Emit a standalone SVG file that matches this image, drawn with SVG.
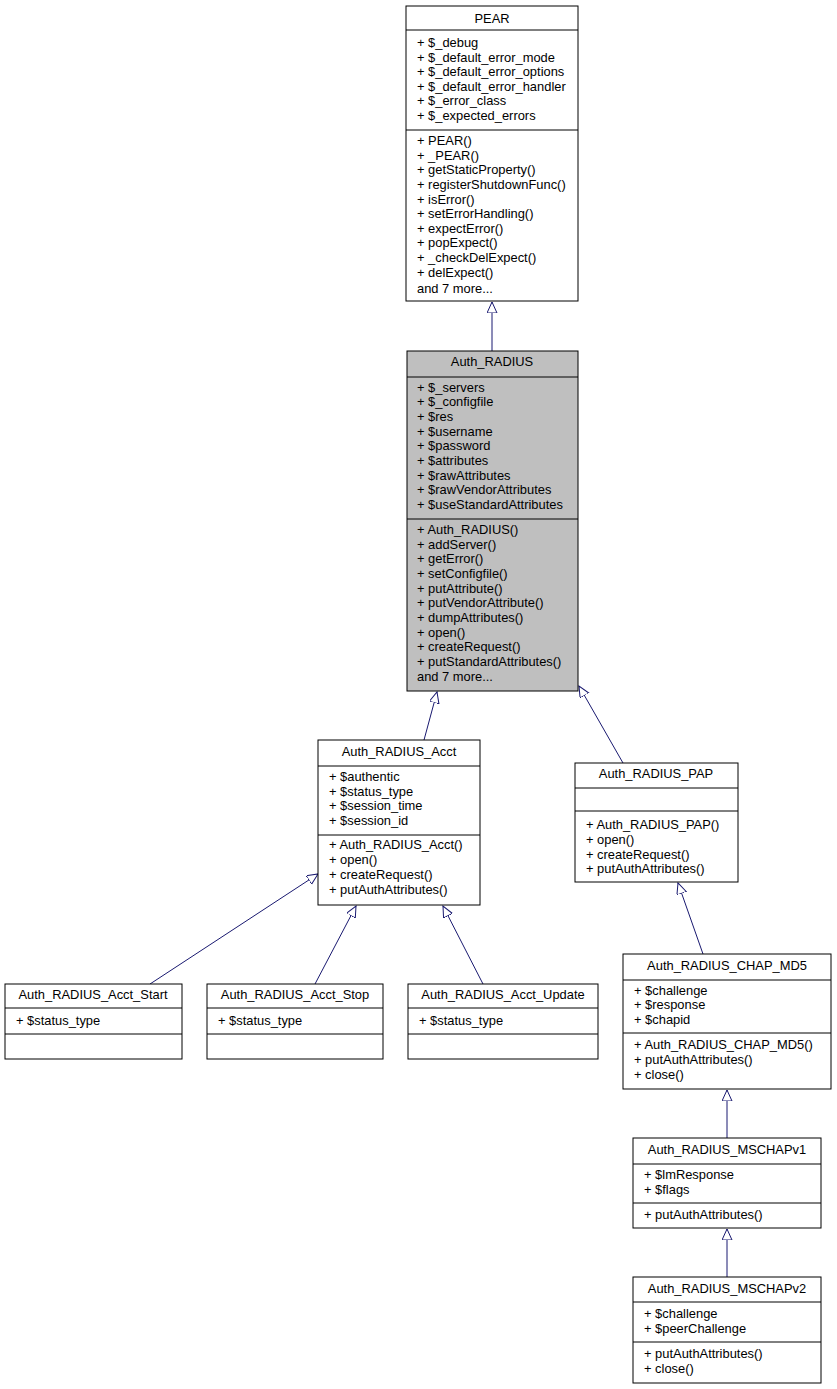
<svg xmlns="http://www.w3.org/2000/svg" width="837" height="1389" viewBox="0 0 837 1389">
<style>
text{font-family:"Liberation Sans",Arial,sans-serif;font-size:12.9px;fill:#000}
.t{text-anchor:middle}
rect{fill:#fff;stroke:#000;stroke-width:1}
line.s{stroke:#000;stroke-width:1}
.e line{stroke:#191970;stroke-width:1;marker-end:url(#a)}
</style>
<defs><marker id="a" markerUnits="userSpaceOnUse" markerWidth="12" markerHeight="12" refX="11" refY="5" orient="auto"><path d="M0,0 L11,5 L0,10 Z" fill="#fff" stroke="#191970"/></marker></defs>
<rect x="0" y="0" width="837" height="1389" style="stroke:none"/>
<g class="e">
<line x1="492" y1="351" x2="492" y2="302"/>
<line x1="424" y1="740" x2="437" y2="692"/>
<line x1="623" y1="763" x2="579" y2="686"/>
<line x1="150" y1="984" x2="318" y2="874"/>
<line x1="315" y1="984" x2="356" y2="906"/>
<line x1="483" y1="984" x2="443" y2="906"/>
<line x1="703" y1="954" x2="678" y2="883"/>
<line x1="727" y1="1138" x2="727" y2="1090"/>
<line x1="727" y1="1277" x2="727" y2="1229"/>
</g>
<g id="PEAR">
<rect x="406" y="6" width="172" height="295"/>
<line class="s" x1="406" y1="30" x2="578" y2="30"/><line class="s" x1="406" y1="130" x2="578" y2="130"/>
<text class="t" x="492" y="23">PEAR</text>
<text x="417" y="47">+ $_debug</text><text x="417" y="62">+ $_default_error_mode</text><text x="417" y="76">+ $_default_error_options</text><text x="417" y="91">+ $_default_error_handler</text><text x="417" y="105">+ $_error_class</text><text x="417" y="120">+ $_expected_errors</text>
<text x="417" y="145">+ PEAR()</text><text x="417" y="160">+ _PEAR()</text><text x="417" y="174">+ getStaticProperty()</text><text x="417" y="189">+ registerShutdownFunc()</text><text x="417" y="204">+ isError()</text><text x="417" y="218">+ setErrorHandling()</text><text x="417" y="233">+ expectError()</text><text x="417" y="247">+ popExpect()</text><text x="417" y="262">+ _checkDelExpect()</text><text x="417" y="277">+ delExpect()</text><text x="417" y="293">and 7 more...</text>
</g>
<g id="Auth_RADIUS">
<rect x="407" y="351" width="171" height="340" style="fill:#bfbfbf"/>
<line class="s" x1="407" y1="377" x2="578" y2="377"/><line class="s" x1="407" y1="519" x2="578" y2="519"/>
<text class="t" x="492" y="366">Auth_RADIUS</text>
<text x="417" y="392">+ $_servers</text><text x="417" y="406">+ $_configfile</text><text x="417" y="421">+ $res</text><text x="417" y="436">+ $username</text><text x="417" y="450">+ $password</text><text x="417" y="465">+ $attributes</text><text x="417" y="480">+ $rawAttributes</text><text x="417" y="494">+ $rawVendorAttributes</text><text x="417" y="509">+ $useStandardAttributes</text>
<text x="417" y="534">+ Auth_RADIUS()</text><text x="417" y="549">+ addServer()</text><text x="417" y="563">+ getError()</text><text x="417" y="578">+ setConfigfile()</text><text x="417" y="593">+ putAttribute()</text><text x="417" y="607">+ putVendorAttribute()</text><text x="417" y="622">+ dumpAttributes()</text><text x="417" y="637">+ open()</text><text x="417" y="651">+ createRequest()</text><text x="417" y="666">+ putStandardAttributes()</text><text x="417" y="681">and 7 more...</text>
</g>
<g id="Auth_RADIUS_Acct">
<rect x="318" y="740" width="162" height="165"/>
<line class="s" x1="318" y1="766" x2="480" y2="766"/><line class="s" x1="318" y1="835" x2="480" y2="835"/>
<text class="t" x="399" y="756">Auth_RADIUS_Acct</text>
<text x="329" y="781">+ $authentic</text><text x="329" y="796">+ $status_type</text><text x="329" y="810">+ $session_time</text><text x="329" y="825">+ $session_id</text>
<text x="329" y="849">+ Auth_RADIUS_Acct()</text><text x="329" y="864">+ open()</text><text x="329" y="879">+ createRequest()</text><text x="329" y="894">+ putAuthAttributes()</text>
</g>
<g id="Auth_RADIUS_PAP">
<rect x="575" y="763" width="163" height="119"/>
<line class="s" x1="575" y1="788" x2="738" y2="788"/><line class="s" x1="575" y1="811" x2="738" y2="811"/>
<text class="t" x="656" y="778">Auth_RADIUS_PAP</text>
<text x="586" y="829">+ Auth_RADIUS_PAP()</text><text x="586" y="844">+ open()</text><text x="586" y="859">+ createRequest()</text><text x="586" y="873">+ putAuthAttributes()</text>
</g>
<g id="Auth_RADIUS_Acct_Start">
<rect x="5" y="984" width="177" height="75"/>
<line class="s" x1="5" y1="1008" x2="182" y2="1008"/><line class="s" x1="5" y1="1034" x2="182" y2="1034"/>
<text class="t" x="93" y="999">Auth_RADIUS_Acct_Start</text><text x="16" y="1025">+ $status_type</text>
</g>
<g id="Auth_RADIUS_Acct_Stop">
<rect x="207" y="984" width="176" height="75"/>
<line class="s" x1="207" y1="1008" x2="383" y2="1008"/><line class="s" x1="207" y1="1034" x2="383" y2="1034"/>
<text class="t" x="295" y="999">Auth_RADIUS_Acct_Stop</text><text x="218" y="1025">+ $status_type</text>
</g>
<g id="Auth_RADIUS_Acct_Update">
<rect x="408" y="984" width="190" height="75"/>
<line class="s" x1="408" y1="1008" x2="598" y2="1008"/><line class="s" x1="408" y1="1034" x2="598" y2="1034"/>
<text class="t" x="503" y="999">Auth_RADIUS_Acct_Update</text><text x="419" y="1025">+ $status_type</text>
</g>
<g id="Auth_RADIUS_CHAP_MD5">
<rect x="623" y="954" width="208" height="135"/>
<line class="s" x1="623" y1="980" x2="831" y2="980"/><line class="s" x1="623" y1="1033" x2="831" y2="1033"/>
<text class="t" x="727" y="970">Auth_RADIUS_CHAP_MD5</text>
<text x="634" y="995">+ $challenge</text><text x="634" y="1009">+ $response</text><text x="634" y="1024">+ $chapid</text>
<text x="634" y="1049">+ Auth_RADIUS_CHAP_MD5()</text><text x="634" y="1064">+ putAuthAttributes()</text><text x="634" y="1079">+ close()</text>
</g>
<g id="Auth_RADIUS_MSCHAPv1">
<rect x="633" y="1138" width="188" height="90"/>
<line class="s" x1="633" y1="1164" x2="821" y2="1164"/><line class="s" x1="633" y1="1203" x2="821" y2="1203"/>
<text class="t" x="727" y="1154">Auth_RADIUS_MSCHAPv1</text>
<text x="644" y="1179">+ $lmResponse</text><text x="644" y="1194">+ $flags</text><text x="644" y="1219">+ putAuthAttributes()</text>
</g>
<g id="Auth_RADIUS_MSCHAPv2">
<rect x="633" y="1277" width="188" height="106"/>
<line class="s" x1="633" y1="1302" x2="821" y2="1302"/><line class="s" x1="633" y1="1342" x2="821" y2="1342"/>
<text class="t" x="727" y="1293">Auth_RADIUS_MSCHAPv2</text>
<text x="644" y="1318">+ $challenge</text><text x="644" y="1333">+ $peerChallenge</text><text x="644" y="1358">+ putAuthAttributes()</text><text x="644" y="1373">+ close()</text>
</g>
</svg>
